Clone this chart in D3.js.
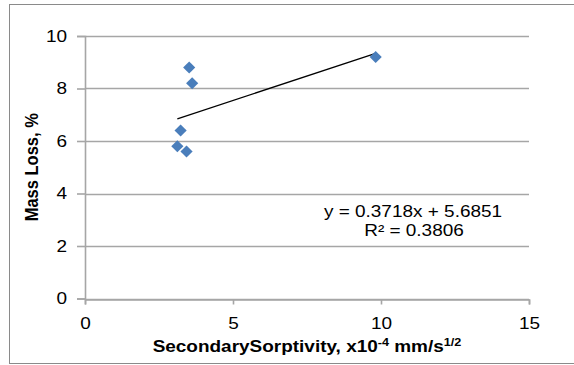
<!DOCTYPE html>
<html>
<head>
<meta charset="utf-8">
<script src="https://cdn.jsdelivr.net/npm/d3@7"></script>
<style>
  html, body { margin: 0; padding: 0; background: #fff; }
  svg { display: block; font-family: "Liberation Sans", Arial, sans-serif; }
</style>
</head>
<body>
<svg id="chart" width="574" height="365"></svg>
<script>
// Secondary sorptivity (x10^-4 mm/s^1/2) vs. mass loss (%)
const sorptivity = [3.52, 3.62, 3.23, 3.12, 3.43, 9.82];
const massLoss   = [8.8, 8.2, 6.4, 5.8, 5.6, 9.2];

// Linear trendline coefficients and fit quality
const slope = 0.3718;
const intercept = 5.6851;
const rSquared = 0.3806;

const xTicks = [0, 5, 10, 15];
const yTicks = [0, 2, 4, 6, 8, 10];

const svg = d3.select("#chart");
const FONT = "Liberation Sans, Arial, sans-serif";
const STRETCH = 1.15;   // text is set slightly wide

// outer chart frame
svg.append("rect")
  .attr("x", 9.5).attr("y", 4.5)
  .attr("width", 620).attr("height", 359)
  .attr("fill", "#fff")
  .attr("stroke", "#8a8a8a").attr("stroke-width", 1);

const x = d3.scaleLinear().domain([0, 15]).range([85, 529]);
const y = d3.scaleLinear().domain([0, 10]).range([298.5, 36]);

const gridColor = "#a6a6a6";

// horizontal gridlines
svg.append("g")
  .selectAll("line")
  .data(yTicks)
  .join("line")
  .attr("x1", x(0)).attr("x2", x(15))
  .attr("y1", d => Math.round(y(d)) + 0.5)
  .attr("y2", d => Math.round(y(d)) + 0.5)
  .attr("stroke", gridColor).attr("stroke-width", 1.6);

// y axis
const yAxis = d3.axisLeft(y).tickValues(yTicks).tickSize(8).tickFormat(d3.format("d"));
const gy = svg.append("g")
  .attr("transform", `translate(${x(0)},0)`)
  .call(yAxis);
gy.select(".domain").attr("stroke", gridColor).attr("stroke-width", 1.6);
gy.selectAll(".tick line").attr("stroke", gridColor).attr("stroke-width", 1.6);
gy.selectAll(".tick text")
  .attr("x", null)
  .attr("transform", `translate(-18,0) scale(${STRETCH},1)`)
  .attr("font-size", 16.5).attr("fill", "#000")
  .attr("font-family", FONT);

// x axis
const xAxis = d3.axisBottom(x).tickValues(xTicks).tickSize(5).tickPadding(13).tickFormat(d3.format("d"));
const gx = svg.append("g")
  .attr("transform", `translate(0,${Math.round(y(0)) + 0.5})`)
  .call(xAxis);
gx.select(".domain").attr("stroke", gridColor).attr("stroke-width", 1.6);
gx.selectAll(".tick line").attr("stroke", gridColor).attr("stroke-width", 1.6);
gx.selectAll(".tick text")
  .attr("transform", `scale(${STRETCH},1)`)
  .attr("font-size", 16.5).attr("fill", "#000")
  .attr("font-family", FONT);

// trendline across the data range
const xMin = d3.min(sorptivity), xMax = d3.max(sorptivity);
svg.append("line")
  .attr("x1", x(xMin)).attr("y1", y(slope * xMin + intercept))
  .attr("x2", x(xMax)).attr("y2", y(slope * xMax + intercept))
  .attr("stroke", "#000").attr("stroke-width", 1.3);

// data markers (diamonds)
const diamond = d3.symbol().type(d3.symbolSquare).size(74);
svg.append("g")
  .selectAll("path")
  .data(sorptivity.map((v, i) => [v, massLoss[i]]))
  .join("path")
  .attr("d", diamond)
  .attr("transform", d => `translate(${x(d[0])},${y(d[1])}) rotate(45)`)
  .attr("fill", "#4a7ebb");

// regression label
const eq = svg.append("g")
  .attr("font-size", 16.5).attr("fill", "#000").attr("text-anchor", "middle");
eq.append("text")
  .attr("transform", `translate(413,217) scale(${STRETCH},1)`)
  .text(`y = ${slope}x + ${intercept}`);
eq.append("text")
  .attr("transform", `translate(414,236) scale(${STRETCH},1)`)
  .text(`R² = ${rSquared}`);

// x axis title
const xt = svg.append("text")
  .attr("transform", `translate(307,352) scale(${STRETCH},1)`)
  .attr("text-anchor", "middle")
  .attr("font-size", 16.5).attr("font-weight", "bold").attr("fill", "#000");
xt.append("tspan").text("SecondarySorptivity, x10");
xt.append("tspan").attr("font-size", 11).attr("dy", -6).text("-4");
xt.append("tspan").attr("dy", 6).text(" mm/s");
xt.append("tspan").attr("font-size", 11).attr("dy", -6).text("1/2");

// y axis title
svg.append("text")
  .attr("transform", `translate(38,${(y(0) + y(10)) / 2}) scale(${STRETCH},1) rotate(-90)`)
  .attr("text-anchor", "middle")
  .attr("font-size", 16.5).attr("font-weight", "bold").attr("fill", "#000")
  .text("Mass Loss, %");
</script>
</body>
</html>
